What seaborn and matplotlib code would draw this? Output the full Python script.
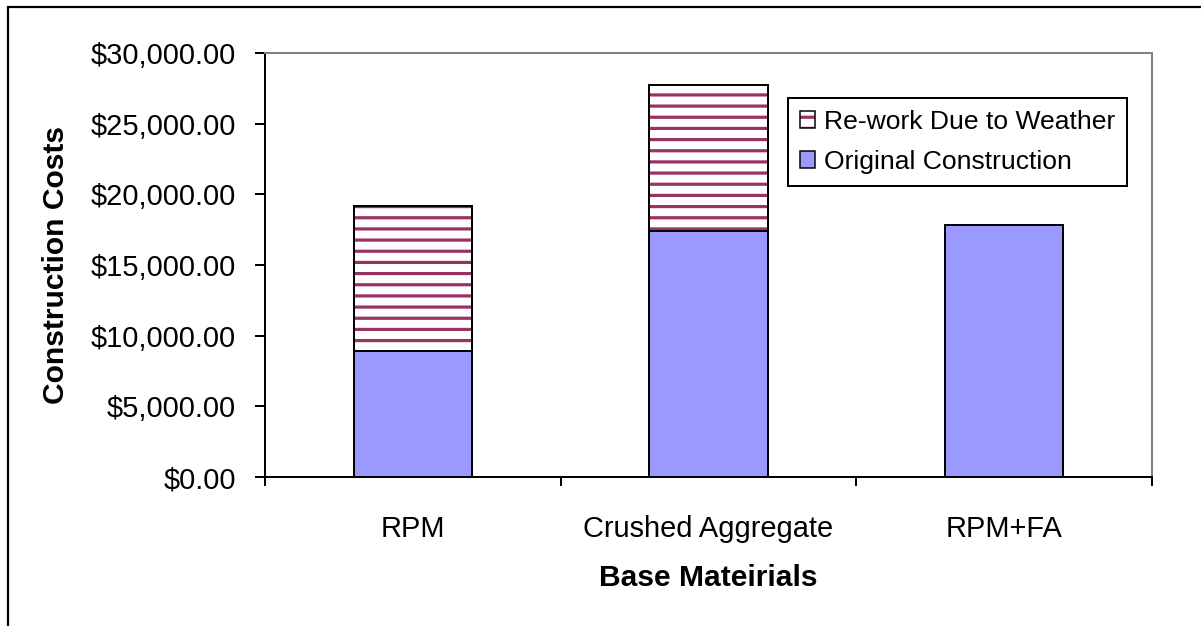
import matplotlib
matplotlib.use("Agg")
import matplotlib.pyplot as plt
import seaborn as sns
import pandas as pd
from matplotlib.patches import Patch, Rectangle
from matplotlib.ticker import StrMethodFormatter, FixedLocator, MultipleLocator
from matplotlib.colors import to_rgba

# Construction cost data per base material
categories = ["RPM", "Crushed Aggregate", "RPM+FA"]
original_cost = [8900, 17400, 17850]
rework_cost = [10300, 10300, 0]

DPI = 67
PX = 72.0 / DPI  # points per pixel

sns.set_theme(style="white")
plt.rcParams["font.family"] = ["Liberation Sans", "DejaVu Sans"]
plt.rcParams["hatch.linewidth"] = 3.2 * PX

df = pd.DataFrame({
    "material": categories,
    "original": original_cost,
    "rework": rework_cost,
})
df["total"] = df["original"] + df["rework"]
stacked = df[df["rework"] > 0]

fig = plt.figure(figsize=((1201 + 0.01) / DPI, (626 + 0.01) / DPI), dpi=DPI)
fig.patch.set_facecolor("white")
ax = fig.add_axes([265 / 1201, (626 - 477) / 626, (1152 - 265) / 1201, (477 - 53) / 626])

orig_color = "#9999FF"
hatch_color = "#993366"
bar_w = 0.4

# hatched re-work segment (drawn as the full stacked height)
sns.barplot(data=stacked, x="material", y="total", order=categories, ax=ax,
            color="white", edgecolor=hatch_color, hatch="-", linewidth=0,
            width=bar_w, saturation=1, errorbar=None)
# outline of the stacked bar
sns.barplot(data=stacked, x="material", y="total", order=categories, ax=ax,
            color="black", fill=False, linewidth=2 * PX,
            width=bar_w, saturation=1, errorbar=None)
# original construction segment
sns.barplot(data=df, x="material", y="original", order=categories, ax=ax,
            color=orig_color, edgecolor="black", linewidth=2 * PX,
            width=bar_w, saturation=1, errorbar=None)

ax.set_xlim(-0.5, 2.5)
ax.set_ylim(0, 30000)
ax.yaxis.set_major_locator(MultipleLocator(5000))
ax.yaxis.set_major_formatter(StrMethodFormatter("${x:,.2f}"))

tick_fs = 29 * PX
ax.tick_params(axis="y", which="major", direction="out", length=10 * PX,
               width=2 * PX, color="black", pad=19 * PX, labelsize=tick_fs,
               labelcolor="black", left=True)
ax.xaxis.set_minor_locator(FixedLocator([-0.5, 0.5, 1.5, 2.5]))
ax.tick_params(axis="x", which="minor", direction="out", length=9 * PX,
               width=2 * PX, color="black", bottom=True)
ax.tick_params(axis="x", which="major", length=0, pad=38 * PX,
               labelsize=tick_fs, labelcolor="black")

for side in ["left", "bottom"]:
    ax.spines[side].set_color("black")
    ax.spines[side].set_linewidth(2 * PX)
for side in ["top", "right"]:
    ax.spines[side].set_color("#808080")
    ax.spines[side].set_linewidth(2 * PX)
ax.grid(False)

label_fs = 30 * PX
ax.set_xlabel("Base Mateirials", fontsize=label_fs, fontweight="bold", color="black")
ax.set_ylabel("Construction Costs", fontsize=label_fs, fontweight="bold", color="black")
ax.xaxis.set_label_coords(0.5, -(578 - 477) / 424)
ax.xaxis.label.set_verticalalignment("center")
ax.yaxis.set_label_coords(-(265 - 56) / 887, 0.5)
ax.yaxis.label.set_verticalalignment("center")

# legend
h_rework = Patch(facecolor="white", edgecolor="black", hatch="-", linewidth=1.5 * PX)
h_rework._hatch_color = to_rgba(hatch_color)
h_orig = Patch(facecolor=orig_color, edgecolor="black", linewidth=1.5 * PX)
leg_fs = 26.5 * PX
leg = ax.legend([h_rework, h_orig], ["Re-work Due to Weather", "Original Construction"],
                loc="upper left",
                bbox_to_anchor=((788 - 265) / 887, (477 - 98) / 424),
                borderaxespad=0, fontsize=leg_fs, frameon=True, fancybox=False,
                framealpha=1, edgecolor="black", handlelength=0.57,
                handleheight=0.57, handletextpad=0.34, borderpad=0.45,
                labelspacing=0.6)
leg.get_frame().set_linewidth(2 * PX)
for t in leg.get_texts():
    t.set_color("black")

# outer chart border, open toward the right and bottom edges
border = Rectangle((7.5 / 1201, -0.2), 1.5, 0.2 + (626 - 7.5) / 626,
                   transform=fig.transFigure, fill=False, edgecolor="black",
                   linewidth=2.2 * PX, clip_on=False)
fig.add_artist(border)

fig.savefig("out.png", dpi=DPI, facecolor="white")
